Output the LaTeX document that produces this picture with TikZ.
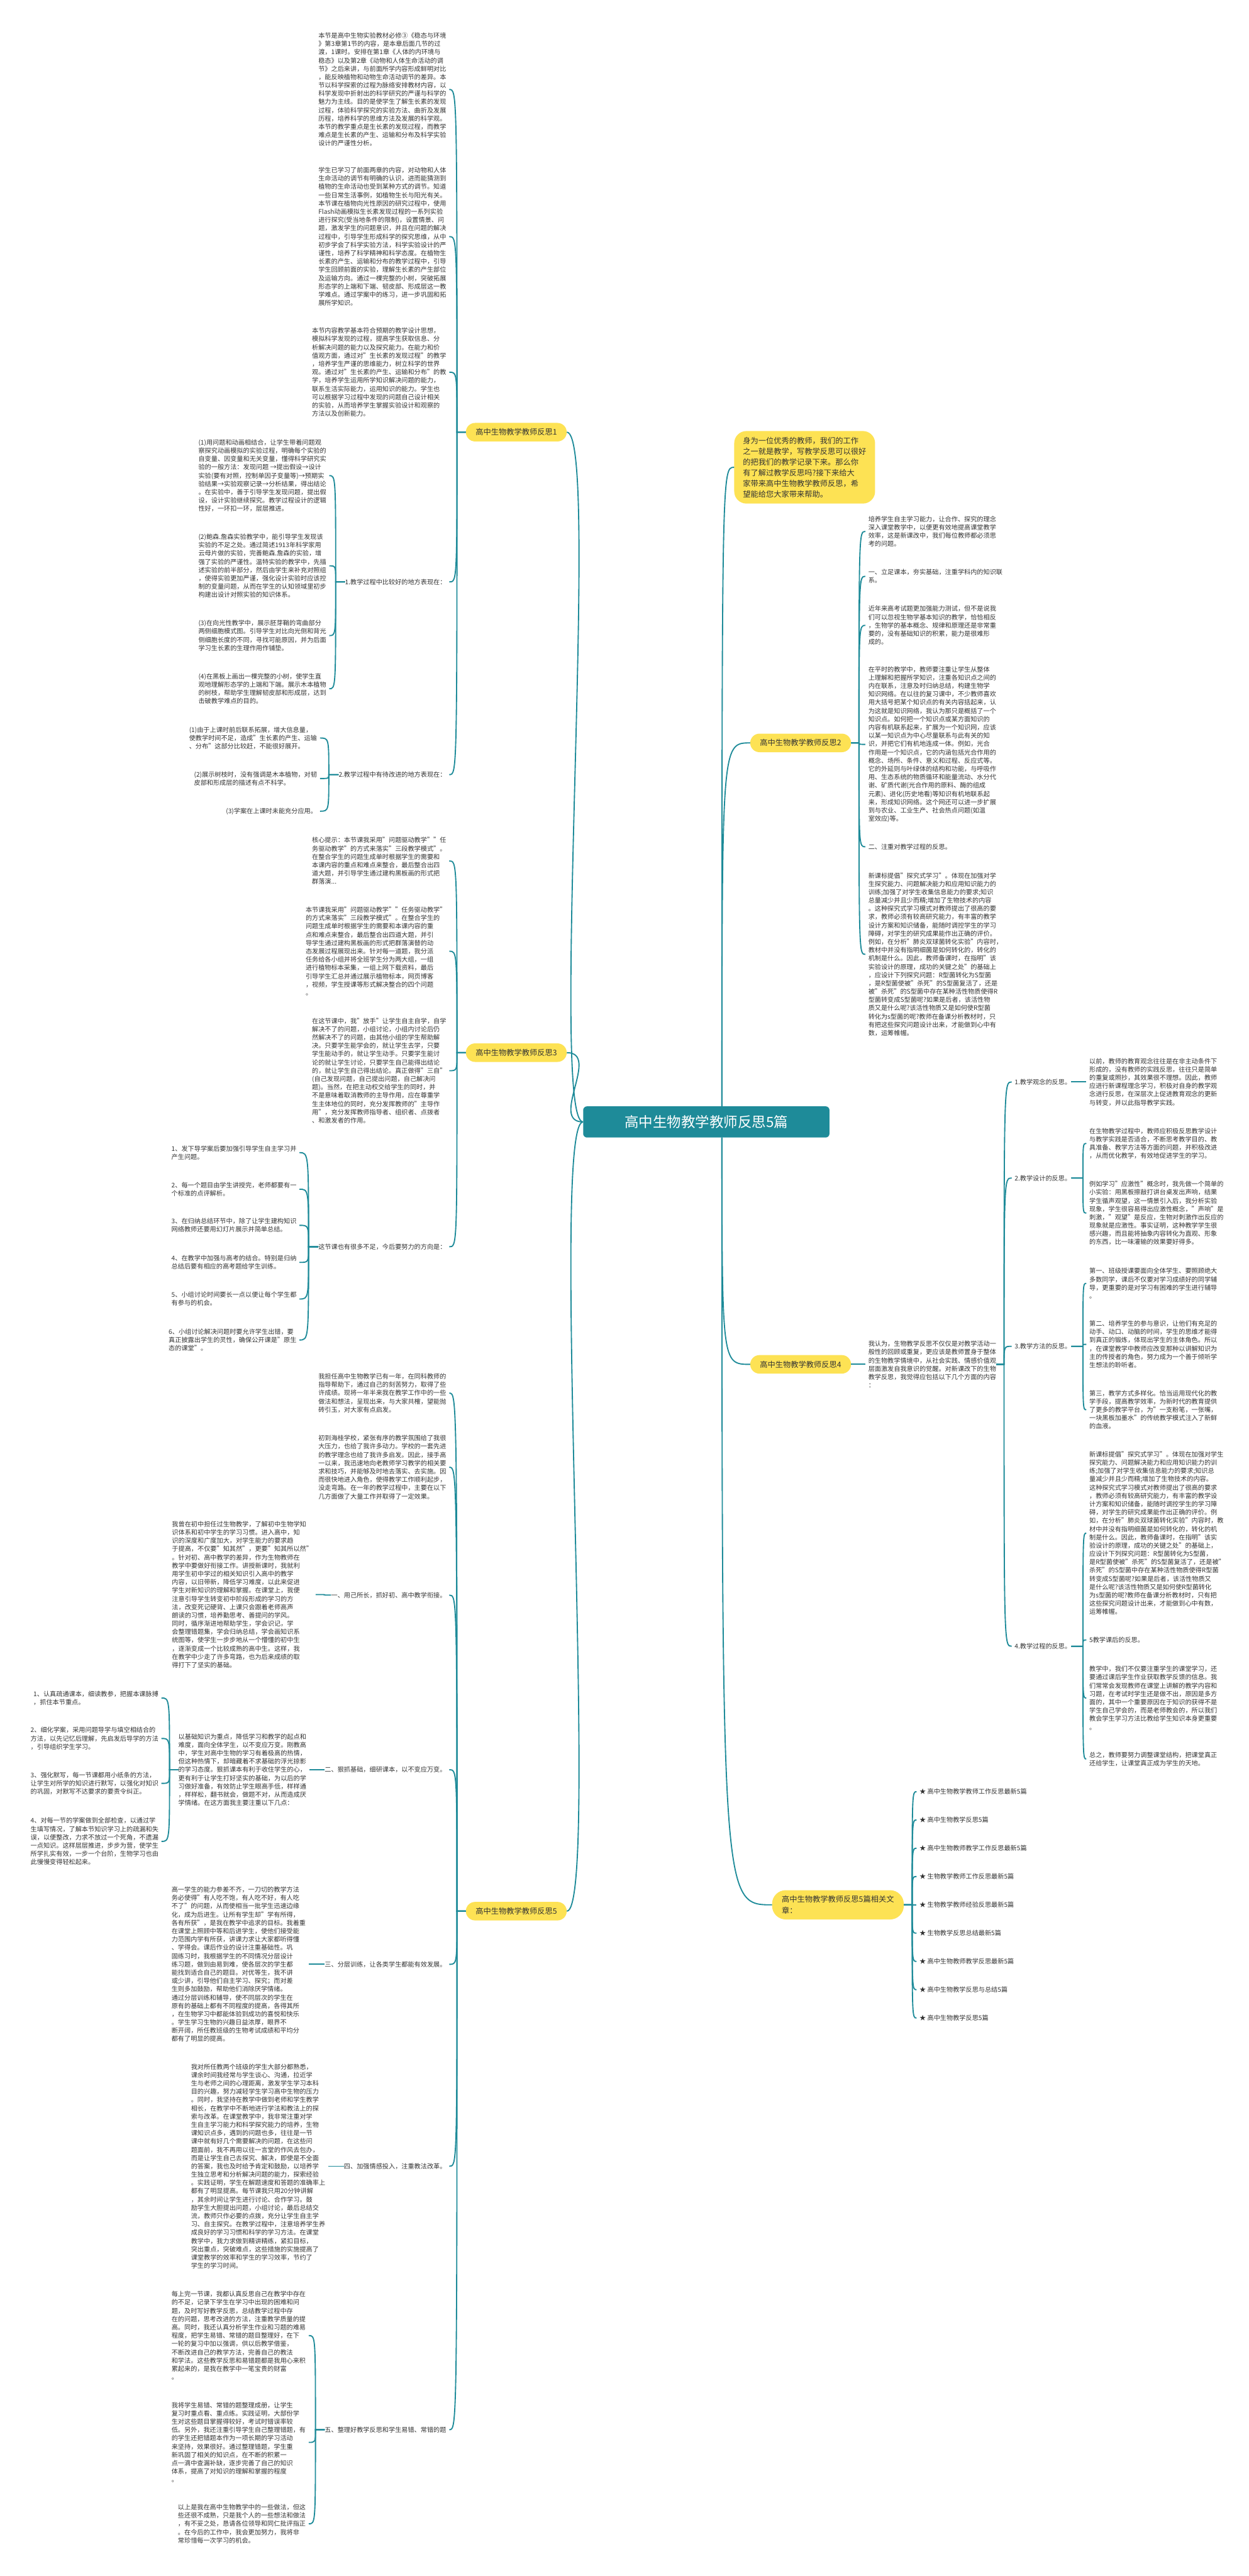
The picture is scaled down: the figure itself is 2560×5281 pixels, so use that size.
\documentclass[tikz,border=0pt]{standalone}
\usepackage{fontspec}
\setmainfont{Noto Sans CJK SC}
\usetikzlibrary{calc}
\definecolor{teal1}{RGB}{30,139,153}
\definecolor{yel}{RGB}{253,226,84}
\definecolor{txt}{RGB}{51,51,51}
\tikzset{
  para/.style={inner sep=0pt, align=left, text=txt, font=\fontsize{13.1}{17}\selectfont},
  lp/.style={para, anchor=east},
  rp/.style={para, anchor=west},
  br/.style={fill=yel, rounded corners=19pt, minimum height=38pt, inner xsep=20pt, inner ysep=0pt, text=txt, font=\fontsize{15.8}{20}\selectfont},
  conn/.style={draw=teal1, line width=2.4pt},
}
\newcommand\lconn[3]{\draw[conn] (#1.west) -- ++(-#3,0) coordinate (tmp) .. controls (tmp |- #2.east) .. ($(#2.east)+(6,0)$);}
\newcommand\rconn[3]{\draw[conn] (#1.east) -- ++(#3,0) coordinate (tmp) .. controls (tmp |- #2.west) .. ($(#2.west)+(-6,0)$);}
\begin{document}
\begin{tikzpicture}[x=1pt,y=-1pt]
\fill[white] (0,0) rectangle (2560,5281);
\useasboundingbox (0,0) rectangle (2560,5281);

% center
\node[fill=teal1, text=white, rounded corners=8pt, minimum width=505pt, minimum height=64pt, font=\fontsize{29}{34}\selectfont] (C) at (1448,2300) {高中生物教学教师反思5篇};
\coordinate (CRt) at (1480,2268);
\coordinate (CRb) at (1480,2332);

% main branches
\node[br, anchor=east] (R1) at (1162,886) {高中生物教学教师反思1};
\node[br, anchor=east] (R3) at (1162,2158) {高中生物教学教师反思3};
\node[br, anchor=east] (R5) at (1162,3918) {高中生物教学教师反思5};
\node[fill=yel, rounded corners=25pt, inner xsep=18pt, inner ysep=12pt, align=left, text=txt, font=\fontsize{15.8}{22}\selectfont, anchor=west] (IN) at (1505,958) {身为一位优秀的教师，我们的工作\\之一就是教学，写教学反思可以很好\\的把我们的教学记录下来。那么你\\有了解过教学反思吗?接下来给大\\家带来高中生物教学教师反思，希\\望能给您大家带来帮助。};
\node[br, anchor=east] (R2) at (1745,1523) {高中生物教学教师反思2};
\node[br, anchor=east] (R4) at (1745,2797) {高中生物教学教师反思4};
\node[br, anchor=east, align=left, rounded corners=28pt, minimum height=60pt, font=\fontsize{15.8}{22}\selectfont] (RR) at (1853,3905) {高中生物教学教师反思5篇相关文\\章：};

\draw[conn] (C.west) .. controls +(-70,0) and +(70,0) .. (R1.east);
\draw[conn] (C.west) .. controls +(-70,0) and +(70,0) .. (R3.east);
\draw[conn] (C.west) .. controls +(-70,0) and +(70,0) .. (R5.east);
\draw[conn] (CRt) .. controls (CRt |- IN.west) .. (IN.west);
\draw[conn] (CRt) .. controls (CRt |- R2.west) .. (R2.west);
\draw[conn] (CRb) .. controls (CRb |- R4.west) .. (R4.west);
\draw[conn] (CRb) .. controls (CRb |- RR.west) .. (RR.west);

% ===== 反思1 =====
\node[lp] (A1) at (915,183.5) {本节是高中生物实验教材必修③《稳态与环境\\》第3章第1节的内容，是本章后面几节的过\\渡，1课时。安排在第1章《人体的内环境与\\稳态》以及第2章《动物和人体生命活动的调\\节》之后来讲，与前面所学内容形成鲜明对比\\，能反映植物和动物生命活动调节的差异。本\\节以科学探索的过程为脉络安排教材内容，以\\科学发现中折射出的科学研究的严谨与科学的\\魅力为主线。目的是使学生了解生长素的发现\\过程，体验科学探究的实验方法、曲折及发展\\历程，培养科学的思维方法及发展的科学观。\\本节的教学重点是生长素的发现过程，而教学\\难点是生长素的产生、运输和分布及科学实验\\设计的严谨性分析。};
\node[lp] (A2) at (915,485) {学生已学习了前面两章的内容，对动物和人体\\生命活动的调节有明确的认识，进而能猜测到\\植物的生命活动也受到某种方式的调节。知道\\一些日常生活事例，如植物生长与阳光有关。\\本节课在植物向光性原因的研究过程中，使用\\Flash动画模拟生长素发现过程的一系列实验\\进行探究(受当地条件的限制)，设置情景、问\\题，激发学生的问题意识，并且在问题的解决\\过程中，引导学生形成科学的探究思维，从中\\初步学会了科学实验方法，科学实验设计的严\\谨性，培养了科学精神和科学态度。在植物生\\长素的产生、运输和分布的教学过程中，引导\\学生回顾前面的实验，理解生长素的产生部位\\及运输方向。通过一棵完整的小树，突破拓展\\形态学的上端和下端、韧皮部、形成层这一教\\学难点。通过学案中的练习，进一步巩固和拓\\展所学知识。};
\node[lp] (A3) at (915,763) {本节内容教学基本符合预期的教学设计思想，\\模拟科学发现的过程，提高学生获取信息、分\\析解决问题的能力以及探究能力。在能力和价\\值观方面，通过对"生长素的发现过程"的教学\\，培养学生严谨的思维能力，树立科学的世界\\观。通过对"生长素的产生、运输和分布"的教\\学，培养学生运用所学知识解决问题的能力，\\联系生活实际能力，运用知识的能力。学生也\\可以根据学习过程中发现的问题自己设计相关\\的实验，从而培养学生掌握实验设计和观察的\\方法以及创新能力。};
\node[lp] (A4) at (915,1193) {1.教学过程中比较好的地方表现在：};
\node[lp] (A5) at (915,1588) {2.教学过程中有待改进的地方表现在：};
\node[lp] (A41) at (669,975) {(1)用问题和动画相结合，让学生带着问题观\\察探究动画模拟的实验过程，明确每个实验的\\自变量、因变量和无关变量，懂得科学研究实\\验的一般方法：发现问题 →提出假设→设计\\实验(要有对照，控制单因子变量等)→预期实\\验结果→实验观察记录→分析结果，得出结论\\。在实验中，善于引导学生发现问题，提出假\\设，设计实验继续探究。教学过程设计的逻辑\\性好，一环扣一环，层层推进。};
\node[lp] (A42) at (669,1160) {(2)鲍森.詹森实验教学中，能引导学生发现该\\实验的不足之处。通过简述1913年科学家用\\云母片做的实验，完善鲍森.詹森的实验，增\\强了实验的严谨性。温特实验的教学中，先描\\述实验的前半部分，然后由学生来补充对照组\\，使得实验更加严谨，强化设计实验时应该控\\制的变量问题，从而在学生的认知领域里初步\\构建出设计对照实验的知识体系。};
\node[lp] (A43) at (669,1303) {(3)在向光性教学中，展示胚芽鞘的弯曲部分\\两侧细胞模式图。引导学生对比向光侧和背光\\侧细胞长度的不同，寻找可能原因，并为后面\\学习生长素的生理作用作铺垫。};
\node[lp] (A44) at (669,1412) {(4)在黑板上画出一棵完整的小树，使学生直\\观地理解形态学的上端和下端。展示木本植物\\的树枝，帮助学生理解韧皮部和形成层，达到\\击破教学难点的目的。};
\node[lp] (A51) at (650,1513) {(1)由于上课时前后联系拓展，增大信息量，\\使教学时间不足，造成"生长素的产生、运输\\、分布"这部分比较赶，不能很好展开。};
\node[lp] (A52) at (650,1596) {(2)展示树枝时，没有强调是木本植物，对韧\\皮部和形成层的描述有点不科学。};
\node[lp] (A53) at (650,1663) {(3)学案在上课时未能充分应用。};
\foreach \c in {A1,A2,A3,A4,A5} {\lconn{R1}{\c}{18}}
\foreach \c in {A41,A42,A43,A44} {\lconn{A4}{\c}{19}}
\foreach \c in {A51,A52,A53} {\lconn{A5}{\c}{20}}

% ===== 反思3 =====
\node[lp] (B1) at (915,1765) {核心提示：本节课我采用"问题驱动教学""任\\务驱动教学"的方式来落实"三段教学模式"。\\在整合学生的问题生成单时根据学生的需要和\\本课内容的重点和难点来整合，最后整合出四\\道大题，并引导学生通过建构黑板画的形式把\\群落演...};
\node[lp] (B2) at (915,1950) {本节课我采用"问题驱动教学""任务驱动教学"\\的方式来落实"三段教学模式"。在整合学生的\\问题生成单时根据学生的需要和本课内容的重\\点和难点来整合，最后整合出四道大题，并引\\导学生通过建构黑板画的形式把群落演替的动\\态发展过程展现出来。针对每一道题，我分派\\任务给各小组并将全班学生分为两大组，一组\\进行植物标本采集，一组上网下载资料，最后\\引导学生汇总并通过展示植物标本，网页博客\\，视频，学生授课等形式解决整合的四个问题\\。};
\node[lp] (B3) at (915,2195) {在这节课中，我"放手"让学生自主自学，自学\\解决不了的问题，小组讨论，小组内讨论后仍\\然解决不了的问题，由其他小组的学生帮助解\\决。只要学生能学会的，就让学生去学，只要\\学生能动手的，就让学生动手。只要学生能讨\\论的就让学生讨论，只要学生自己能得出结论\\的，就让学生自己得出结论。真正做得"三自"\\(自己发现问题，自己提出问题，自己解决问\\题)。当然，在把主动权交给学生的同时，并\\不是意味着取消教师的主导作用，应在尊重学\\生主体地位的同时，充分发挥教师的"主导作\\用"，充分发挥教师指导者、组织者、点拨者\\、和激发者的作用。};
\node[lp] (B4) at (915,2556) {这节课也有很多不足，今后要努力的方向是：};
\node[lp] (B41) at (608,2363) {1、发下导学案后要加强引导学生自主学习并\\产生问题。};
\node[lp] (B42) at (608,2438) {2、每一个题目由学生讲授完，老师都要有一\\个标准的点评解析。};
\node[lp] (B43) at (608,2512) {3、在归纳总结环节中，除了让学生建构知识\\网络教师还要用幻灯片展示并简单总结。};
\node[lp] (B44) at (608,2588) {4、在教学中加强与高考的结合。特别是归纳\\总结后要有相应的高考题给学生训练。};
\node[lp] (B45) at (608,2663) {5、小组讨论时间要长一点以便让每个学生都\\有参与的机会。};
\node[lp] (B46) at (608,2747) {6、小组讨论解决问题时要允许学生出错，要\\真正披露出学生的灵性，确保公开课是"原生\\态的课堂"。};
\foreach \c in {B1,B2,B3,B4} {\lconn{R3}{\c}{18}}
\foreach \c in {B41,B42,B43,B44,B45,B46} {\lconn{B4}{\c}{20}}

% ===== 反思5 =====
\node[lp] (E1) at (915,2856) {我担任高中生物教学已有一年，在同科教师的\\指导帮助下，通过自己的刻苦努力，取得了些\\许成绩。现将一年半来我在教学工作中的一些\\做法和想法，呈现出来，与大家共榷，望能抛\\砖引玉，对大家有点启发。};
\node[lp] (E2) at (915,3008) {初到海桂学校，紧张有序的教学氛围给了我很\\大压力，也给了我许多动力。学校的一套先进\\的教学理念也给了我许多启发。因此，接手高\\一以来，我迅速地向老教师学习教学的相关要\\求和技巧，并能够及时地去落实、去实施。因\\而很快地进入角色，使得教学工作顺利起步，\\没走弯路。在一年的教学过程中，主要在以下\\几方面做了大量工作并取得了一定效果。};
\node[lp] (E3) at (915,3270) {一、用己所长，抓好初、高中教学衔接。};
\node[lp] (E4) at (915,3628) {二、狠抓基础，细研课本，以不变应万变。};
\node[lp] (E5) at (915,4027) {三、分层训练，让各类学生都能有效发展。};
\node[lp] (E6) at (915,4441) {四、加强情感投入，注重教法改革。};
\node[lp] (E7) at (915,4981) {五、整理好教学反思和学生易错、常错的题};
\node[lp] (E31) at (641,3269) {我曾在初中担任过生物教学，了解初中生物学知\\识体系和初中学生的学习习惯。进入高中，知\\识的深度和广度加大，对学生能力的要求趋\\于提高，不仅要"知其然"，更要"知其所以然"\\。针对初、高中教学的差异，作为生物教师在\\教学中要做好衔接工作。讲授新课时，我就利\\用学生初中学过的相关知识引入高中的教学\\内容，以旧带新，降低学习难度，以此来促进\\学生对新知识的理解和掌握。在课堂上，我便\\注意引导学生转变初中阶段形成的学习的方\\法，改变死记硬背、上课只会跟着老师高声\\朗读的习惯，培养勤思考、善提问的学风。\\同时，循序渐进地帮助学生，学会识记，学\\会整理错题集，学会归纳总结，学会画知识系\\统图等，使学生一步步地从一个懵懂的初中生\\，逐渐变成一个比较成熟的高中生。这样，我\\在教学中少走了许多弯路，也为后来成绩的取\\得打下了坚实的基础。};
\node[lp] (E41) at (628,3628) {以基础知识为重点，降低学习和教学的起点和\\难度，面向全体学生，以不变应万变。刚教高\\中，学生对高中生物的学习有着极高的热情，\\但这种热情下，却暗藏着不求基础的浮光掠影\\的学习态度。狠抓课本有利于收住学生的心，\\更有利于让学生打好坚实的基础，为以后的学\\习做好准备，有效防止学生眼高手低，样样通\\，样样松，翻书就会，做题不对，从而造成厌\\学情绪。在这方面我主要注重以下几点：};
\node[lp] (E411) at (325,3481) {1、认真疏通课本，细读教参，把握本课脉搏\\，抓住本节重点。};
\node[lp] (E412) at (325,3564) {2、细化学案，采用问题导学与填空相结合的\\方法，以先记忆后理解，先启发后导学的方法\\，引导组织学生学习。};
\node[lp] (E413) at (325,3656) {3、强化默写，每一节课都用小纸条的方法，\\让学生对所学的知识进行默写，以强化对知识\\的巩固，对默写不达要求的要责令纠正。};
\node[lp] (E414) at (325,3775) {4、对每一节的学案做到全部检查，以通过学\\生填写情况，了解本节知识学习上的疏漏和失\\误，以便整改，力求不放过一个死角，不遗漏\\一点知识。这样层层推进，步步为营，使学生\\所学扎实有效，一步一个台阶，生物学习也由\\此慢慢变得轻松起来。};
\node[lp] (E51) at (627,4027) {高一学生的能力参差不齐，一刀切的教学方法\\务必使得"有人吃不饱，有人吃不好，有人吃\\不了"的问题，从而使相当一批学生迅速边缘\\化，成为后进生。让所有学生却"学有所得，\\各有所获"，是我在教学中追求的目标。我着重\\在课堂上照顾中等和后进学生，使他们接受能\\力范围内学有所获，讲课力求让大家都听得懂\\、学得会。课后作业的设计注重基础性。巩\\固练习时，我根据学生的不同情况分层设计\\练习题，做到由易到难，使各层次的学生都\\能找到适合自己的题目。对优等生，我不讲\\或少讲，引导他们自主学习、探究；而对差\\生则多加鼓励，帮助他们消除厌学情绪。\\通过分层训练和辅导，使不同层次的学生在\\原有的基础上都有不同程度的提高，各得其所\\，在生物学习中都能体验到成功的喜悦和快乐\\。学生学习生物的兴趣日益浓厚，眼界不\\断开阔，所任教班级的生物考试成绩和平均分\\都有了明显的提高。};
\node[lp] (E61) at (667,4441) {我对所任教两个班级的学生大部分都熟悉，\\课余时间我经常与学生谈心、沟通，拉近学\\生与老师之间的心理距离，激发学生学习本科\\目的兴趣，努力减轻学生学习高中生物的压力\\。同时，我坚持在教学中做到老师和学生教学\\相长，在教学中不断地进行学法和教法上的探\\索与改革。在课堂教学中，我非常注重对学\\生自主学习能力和科学探究能力的培养，生物\\课知识点多，遇到的问题也多，往往是一节\\课中就有好几个需要解决的问题，在这些问\\题面前，我不再用以往一言堂的作风去包办，\\而是让学生自己去探究、解决，即使是不全面\\的答案，我也及时给予肯定和鼓励，以培养学\\生独立思考和分析解决问题的能力，探索经验\\。实践证明，学生在解题速度和答题的准确率上\\都有了明显提高。每节课我只用20分钟讲解\\，其余时间让学生进行讨论、合作学习。鼓\\励学生大胆提出问题，小组讨论，最后总结交\\流，教师只作必要的点拨，充分让学生自主学\\习、自主探究。在教学过程中，注意培养学生养\\成良好的学习习惯和科学的学习方法。在课堂\\教学中，我力求做到精讲精练，紧扣目标，\\突出重点，突破难点，这些措施的实施提高了\\课堂教学的效率和学生的学习效率，节约了\\学生的学习时间。};
\node[lp] (E71) at (627,4788) {每上完一节课，我都认真反思自己在教学中存在\\的不足，记录下学生在学习中出现的困难和问\\题，及时写好教学反思，总结教学过程中存\\在的问题，思考改进的方法，注重教学质量的提\\高。同时，我还认真分析学生作业和习题的难易\\程度，把学生易错、常错的题目整理好，在下\\一轮的复习中加以强调，供以后教学借鉴，\\不断改进自己的教学方法，完善自己的教法\\和学法。这些教学反思和易错题都是我用心来积\\累起来的，是我在教学中一笔宝贵的财富\\。};
\node[lp] (E72) at (627,5007) {我将学生易错、常错的题整理成册，让学生\\复习时重点看、重点练。实践证明，大部份学\\生对这些题目掌握得较好，考试时错误率较\\低。另外，我还注重引导学生自己整理错题，有\\的学生还把错题本作为一项长期的学习活动\\来坚持，效果很好。通过整理错题，学生重\\新巩固了相关的知识点，在不断的积累一\\点一滴中查漏补缺，逐步完善了自己的知识\\体系，提高了对知识的理解和掌握的程度\\。};
\node[lp] (E73) at (627,5174) {以上是我在高中生物教学中的一些做法，但这\\些还很不成熟，只是我个人的一些想法和做法\\，有不妥之处，恳请各位领导和同仁批评指正\\。在今后的工作中，我会更加努力，我将非\\常珍惜每一次学习的机会。};
\foreach \c in {E1,E2,E3,E4,E5,E6,E7} {\lconn{R5}{\c}{18}}
\lconn{E3}{E31}{12}
\lconn{E4}{E41}{12}
\lconn{E5}{E51}{12}
\lconn{E6}{E61}{12}
\foreach \c in {E411,E412,E413,E414} {\lconn{E41}{\c}{18}}
\foreach \c in {E71,E72,E73} {\lconn{E7}{\c}{19}}

% ===== 反思2 =====
\node[rp] (D1) at (1780,1089.5) {培养学生自主学习能力，让合作、探究的理念\\深入课堂教学中，以便更有效地提高课堂教学\\效率，这是新课改中，我们每位教师都必须思\\考的问题。};
\node[rp] (D2) at (1780,1181.5) {一、立足课本，夯实基础，注重学科内的知识联\\系。};
\node[rp] (D3) at (1780,1282) {近年来高考试题更加强能力测试，但不是说我\\们可以忽视生物学基本知识的教学，恰恰相反\\，生物学的基本概念、规律和原理还是非常重\\要的，没有基础知识的积累，能力是很难形\\成的。};
\node[rp] (D4) at (1780,1526) {在平时的教学中，教师要注重让学生从整体\\上理解和把握所学知识，注重各知识点之间的\\内在联系，注意及时归纳总结，构建生物学\\知识网络。在以往的复习课中，不少教师喜欢\\用大括号把某个知识点的有关内容括起来，认\\为这就是知识网络，我认为那只是概括了一个\\知识点。如何把一个知识点或某方面知识的\\内容有机联系起来，扩展为一个知识网，应该\\以某一知识点为中心尽量联系与此有关的知\\识，并把它们有机地连成一体。例如，光合\\作用是一个知识点，它的内涵包括光合作用的\\概念、场所、条件、意义和过程、反应式等。\\它的外延则与叶绿体的结构和功能，与呼吸作\\用、生态系统的物质循环和能量流动、水分代\\谢、矿质代谢(光合作用的原料、酶的组成\\元素)、进化(历史地看)等知识有机地联系起\\来，形成知识网络。这个网还可以进一步扩展\\到与农业、工业生产、社会热点问题(如温\\室效应)等。};
\node[rp] (D5) at (1780,1736) {二、注重对教学过程的反思。};
\node[rp] (D6) at (1780,1956.5) {新课标提倡"探究式学习"。体现在加强对学\\生探究能力、问题解决能力和应用知识能力的\\训练;加强了对学生收集信息能力的要求;知识\\总量减少并且少而精;增加了生物技术的内容\\。这种探究式学习模式对教师提出了很高的要\\求，教师必须有较高研究能力，有丰富的教学\\设计方案和知识储备，能随时调控学生的学习\\障碍，对学生的研究成果能作出正确的评价。\\例如，在分析"肺炎双球菌转化实验"内容时，\\教材中并没有指明细菌是如何转化的，转化的\\机制是什么。因此，教师备课时，在指明"该\\实验设计的原理，成功的关键之处"的基础上\\，应设计下列探究问题：R型菌转化为S型菌\\，是R型菌使被"杀死"的S型菌复活了，还是\\被"杀死"的S型菌中存在某种活性物质使得R\\型菌转变成S型菌呢?如果是后者，该活性物\\质又是什么呢?该活性物质又是如何使R型菌\\转化为s型菌的呢?教师在备课分析教材时，只\\有把这些探究问题设计出来，才能做到心中有\\数，运筹帷幄。};
\foreach \c in {D1,D2,D3,D4,D5,D6} {\rconn{R2}{\c}{16}}

% ===== 反思4 =====
\node[rp] (F0) at (1780,2797) {我认为，生物教学反思不仅仅是对教学活动一\\般性的回顾或重复，更应该是教师置身于整体\\的生物教学情境中，从社会实践、情感价值观\\层面激发自我意识的觉醒。对新课改下的生物\\教学反思，我觉得应包括以下几个方面的内容\\：};
\rconn{R4}{F0}{15}
\node[rp] (F1) at (2080,2218) {1.教学观念的反思。};
\node[rp] (F2) at (2080,2415) {2.教学设计的反思。};
\node[rp] (F3) at (2080,2760) {3.教学方法的反思。};
\node[rp] (F4) at (2080,3375) {4.教学过程的反思。};
\foreach \c in {F1,F2,F3,F4} {\rconn{F0}{\c}{16}}
\node[rp] (F11) at (2233,2218) {以前，教师的教育观念往往是在非主动条件下\\形成的，没有教师的实践反思，往往只是简单\\的重复或照抄，其效果很不理想。因此，教师\\应进行新课程理念学习，积极对自身的教学观\\念进行反思，在深层次上促进教育观念的更新\\与转变，并以此指导教学实践。};
\node[rp] (F21) at (2233,2344) {在生物教学过程中，教师应积极反思教学设计\\与教学实践是否适合，不断思考教学目的、教\\具准备、教学方法等方面的问题，并积极改进\\，从而优化教学，有效地促进学生的学习。};
\node[rp] (F22) at (2233,2487) {例如学习"应激性"概念时，我先做一个简单的\\小实验：用黑板擦敲打讲台桌发出声响，结果\\学生循声观望，这一情景引入后，我分析实验\\现象，学生很容易得出应激性概念，"声响"是\\刺激，"观望"是反应，生物对刺激作出反应的\\现象就是应激性。事实证明，这种教学学生很\\感兴趣，而且能将抽象内容转化为直观、形象\\的东西，比一味灌输的效果要好得多。};
\node[rp] (F31) at (2233,2631) {第一、班级授课要面向全体学生、要照顾绝大\\多数同学，课后不仅要对学习成绩好的同学辅\\导，更重要的是对学习有困难的学生进行辅导\\。};
\node[rp] (F32) at (2233,2756) {第二、培养学生的参与意识，让他们有充足的\\动手、动口、动脑的时间，学生的思维才能得\\到真正的锻炼，体现出学生的主体角色。所以\\，在课堂教学中教师应改变那种以讲解知识为\\主的传授者的角色，努力成为一个善于倾听学\\生想法的聆听者。};
\node[rp] (F33) at (2233,2890) {第三，教学方式多样化。恰当运用现代化的教\\学手段，提高教学效率，为新时代的教育提供\\了更多的教学平台，为"一支粉笔，一张嘴，\\一块黑板加墨水"的传统教学模式注入了新鲜\\的血液。};
\node[rp] (F41) at (2233,3143) {新课标提倡"探究式学习"。体现在加强对学生\\探究能力、问题解决能力和应用知识能力的训\\练;加强了对学生收集信息能力的要求;知识总\\量减少并且少而精;增加了生物技术的内容。\\这种探究式学习模式对教师提出了很高的要求\\，教师必须有较高研究能力，有丰富的教学设\\计方案和知识储备，能随时调控学生的学习障\\碍，对学生的研究成果能作出正确的评价。例\\如，在分析"肺炎双球菌转化实验"内容时，教\\材中并没有指明细菌是如何转化的，转化的机\\制是什么。因此，教师备课时，在指明"该实\\验设计的原理，成功的关键之处"的基础上，\\应设计下列探究问题：R型菌转化为S型菌，\\是R型菌使被"杀死"的S型菌复活了，还是被"\\杀死"的S型菌中存在某种活性物质使得R型菌\\转变成S型菌呢?如果是后者，该活性物质又\\是什么呢?该活性物质又是如何使R型菌转化\\为s型菌的呢?教师在备课分析教材时，只有把\\这些探究问题设计出来，才能做到心中有数，\\运筹帷幄。};
\node[rp] (F42) at (2233,3362) {5教学课后的反思。};
\node[rp] (F43) at (2233,3481) {教学中，我们不仅要注重学生的课堂学习，还\\要通过课后学生作业获取教学反馈的信息。我\\们常常会发现教师在课堂上讲解的教学内容和\\习题，在考试时学生还是做不出，原因是多方\\面的，其中一个重要原因在于知识的获得不是\\学生自己学会的，而是老师教会的，所以我们\\教会学生学习方法比教给学生知识本身更重要\\。};
\node[rp] (F44) at (2233,3606) {总之，教师要努力调整课堂结构，把课堂真正\\还给学生，让课堂真正成为学生的天地。};
\rconn{F1}{F11}{24}
\foreach \c in {F21,F22} {\rconn{F2}{\c}{24}}
\foreach \c in {F31,F32,F33} {\rconn{F3}{\c}{24}}
\foreach \c in {F41,F42,F43,F44} {\rconn{F4}{\c}{24}}

% ===== 相关文章 =====
\foreach \t [count=\i from 0] in {高中生物教学教师工作反思最新5篇,高中生物教学反思5篇,高中生物教师教学工作反思最新5篇,生物教学教师工作反思最新5篇,生物教学教师经验反思最新5篇,生物教学反思总结最新5篇,高中生物教师教学反思最新5篇,高中生物教学反思与总结5篇,高中生物教学反思5篇} {
  \node[rp] (G\i) at (1885,3673+58*\i) {★ \t};
  \rconn{RR}{G\i}{17}
}
\end{tikzpicture}
\end{document}
